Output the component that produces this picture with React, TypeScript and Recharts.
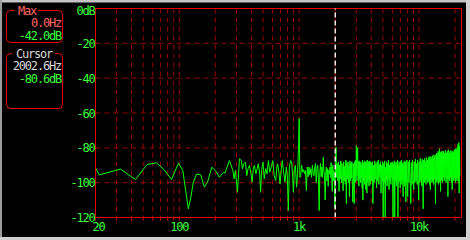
import { LineChart, Line, XAxis, YAxis, CartesianGrid, ReferenceLine } from "recharts"

const MONO = '"DejaVu Sans Mono", monospace'
const GREEN = "#00ff00"
const LABEL_GREEN = "#3cff3c"
const RED = "#e80000"
const GRID_RED = "#9a0000"
const TXT = { fontFamily: MONO, fontSize: 12, letterSpacing: -1.2 }

// sparse FFT bins below ~1 kHz
const LOW_HZ = [
  20, 21.5, 32.3, 43.1, 53.8, 64.6, 75.4, 86.1, 98.5, 107, 119, 125, 131, 140, 151, 162, 172, 187, 202, 216,
  234, 241, 262, 280, 287, 294, 306, 318, 330, 336, 345, 356, 366, 375, 385, 395, 406, 416, 424, 436,
  447, 456, 468, 477, 486, 500, 512, 526, 540, 554, 569, 585, 603, 619, 638, 655, 663, 680, 693, 711,
  724, 743, 763, 782, 798, 813, 829, 850, 867, 884, 896, 913, 931, 953, 971, 988, 1001, 1015,
]
const LOW_DB = [
  -91.5, -95.5, -92.2, -98.2, -89.6, -88.6, -92.8, -98.2, -88.8, -93, -115, -108.3, -99.7, -95, -95.5, -102.6, -99.7, -91.1, -93.4, -96.9,
  -94, -94.5, -87.3, -93, -97.8, -93, -105.5, -86.3, -87.3, -92, -89.2, -88.2, -95.9, -92, -90.1, -94, -99.7, -91.1, -90.1, -94.9,
  -92, -89.2, -94, -105.5, -93, -88.2, -97.8, -92, -94.9, -87.3, -94, -91.1, -87.3, -95.9, -98.8, -90.1, -89.2, -94.9, -100.7, -92,
  -87.3, -94, -99.7, -91.1, -96.8, -116, -91.1, -87.3, -88.2, -96.8, -105.5, -92, -90.1, -102.6, -94.9, -80.5, -63.2, -97,
]

// dense part: linear bin runs (start Hz, step Hz) with the dB read per run
const DB_1K = [
  -96, -90, -94, -92.5, -95, -93, -104.5, -91, -96.5, -91,
  -95.5, -92, -97, -90, -94.5, -96, -91.5, -89, -100, -92,
  -90, -98, -116, -94, -89, -96.5, -91, -97, -85.4, -93,
  -96, -110, -94, -91, -99, -92, -102, -93, -95, -91,
  -97, -88.5, -96, -105, -90, -99, -93, -97, -115, -91,
]
const DB_2K = [
  -79.6, -97, -89, -99, -88, -105, -90, -98, -87.5, -100,
  -89, -97, -104.6, -88, -99, -90.5, -101, -87, -112, -89,
  -98, -88, -100, -90, -108, -87.5, -99, -89, -97.5, -88,
  -101, -111, -89, -98, -112, -88, -100, -87, -99, -78.7,
  -96, -86, -80, -99, -88, -102, -87.5, -98, -89, -100,
  -88, -97, -90, -103, -87, -110, -89, -99, -88, -101,
  -87.5, -98, -89, -104, -88, -99, -106, -87, -100, -89,
  -98, -88, -102, -87.5, -99, -89, -101, -88, -97, -89,
]
const DB_4K = [
  -99, -88, -112, -90, -100, -87.5, -98, -89, -103, -88,
  -99, -87, -101, -89.5, -97, -88, -106, -90, -99, -88,
  -120, -89, -100, -87.5, -120, -91, -99, -88, -102, -89,
  -98, -87, -104, -90, -99, -88.5, -101, -89, -97, -88,
  -100, -120, -89, -98, -87.5, -120, -90, -99, -88, -102,
  -89, -97, -87, -120, -90, -100, -88, -99, -89.5, -103,
  -88, -98, -87, -101, -89, -99, -88.5, -108, -90, -98,
  -87.5, -102, -89, -99, -88, -111, -90, -100, -87, -98,
]
const DB_8K = [
  -108, -88, -100, -87, -99, -112, -88.5, -101, -87, -98,
  -104, -88, -100, -86.5, -99, -89, -101, -87, -98, -110,
  -88, -100, -86, -99, -88, -102, -86.5, -98, -115, -87,
  -100, -86, -99, -88, -101, -85.5, -98, -87, -100, -86,
  -99, -85, -101, -86.5, -104, -85, -98, -86, -100, -84.5,
  -99, -86, -101, -84, -98, -85.5, -100, -112, -84, -99,
  -83, -100, -84.5, -98, -82, -101, -83, -99, -80.5, -100,
  -82.5, -105, -83, -99, -82, -98, -83.5, -100, -82, -97,
]
const DB_16K = [
  -82, -99, -83, -97, -81.5, -100, -83, -98, -82, -108,
  -81, -98, -83, -99, -82, -97, -81.5, -100, -83, -104,
  -82, -98, -82.5, -99, -81, -97, -82, -100, -80.5, -98,
  -81, -99, -79.5, -97, -78, -100, -77, -106, -79, -96,
]
const DENSE = [
  { start: 1030, step: 20, db: DB_1K },
  { start: 2030, step: 25, db: DB_2K },
  { start: 4030, step: 50, db: DB_4K },
  { start: 8050, step: 100, db: DB_8K },
  { start: 16100, step: 150, db: DB_16K },
]

const X_GRID = [
  20, 30, 40, 50, 60, 70, 80, 90, 100, 200, 300, 400, 500, 600, 700, 800, 900,
  1000, 2000, 3000, 4000, 5000, 6000, 7000, 8000, 9000, 10000, 20000,
]
const X_LABELS: Record<number, string> = { 20: "20", 100: "100", 1000: "1k", 10000: "10k" }
const Y_TICKS = [0, -20, -40, -60, -80, -100, -120]
const X_MAX = 22650
const CURSOR_HZ = 2002.6

const data = [
  ...LOW_HZ.map((hz, i) => ({ hz, db: LOW_DB[i] })),
  ...DENSE.flatMap((seg) => seg.db.map((db, i) => ({ hz: seg.start + i * seg.step, db }))),
]

function XTick(props: any) {
  const { x, payload } = props
  const label = X_LABELS[payload.value]
  if (!label) return null
  return (
    <text x={x + (payload.value === 20 ? 3 : 0)} y={231} textAnchor="middle" fill={LABEL_GREEN} style={TXT}>
      {label}
    </text>
  )
}

function YTick(props: any) {
  const { y, payload } = props
  const v = payload.value
  return (
    <text x={94.5} y={v === 0 ? 15 : y + 4.5} textAnchor="end" fill={LABEL_GREEN} style={TXT}>
      {v === 0 ? "0dB" : String(v)}
    </text>
  )
}

function Panels() {
  return (
    <svg width={470} height={240} style={{ position: "absolute", left: 0, top: 0, pointerEvents: "none" }}>
      {/* window frame */}
      <rect x={0} y={0} width={470} height={2.5} fill="#c4c4c4" />
      <rect x={0} y={0} width={2} height={240} fill="#9c9c9c" />
      <rect x={466} y={0} width={4} height={240} fill="#d0d0d0" />
      <rect x={0} y={237} width={470} height={3} fill="#d0d0d0" />

      <rect x={6.5} y={10.5} width={56} height={32} rx={4} fill="none" stroke={RED} />
      <rect x={15} y={6} width={23} height={8} fill="#000" />
      <text x={27} y={14.5} textAnchor="middle" fill="#ff6464" style={TXT}>Max</text>
      <text x={61} y={27} textAnchor="end" fill="#ff6464" style={TXT}>0.0Hz</text>
      <text x={61} y={39.5} textAnchor="end" fill={LABEL_GREEN} style={TXT}>-42.0dB</text>

      <rect x={6.5} y={53.5} width={56} height={55} rx={4} fill="none" stroke={RED} />
      <rect x={12} y={49} width={43} height={8} fill="#000" />
      <text x={34} y={57.5} textAnchor="middle" fill="#d8d8d8" style={TXT}>Cursor</text>
      <text x={61} y={70} textAnchor="end" fill="#d8d8d8" style={TXT}>2002.6Hz</text>
      <text x={61} y={83} textAnchor="end" fill={LABEL_GREEN} style={TXT}>-80.6dB</text>
    </svg>
  )
}

export default function App() {
  return (
    <div style={{ position: "fixed", left: 0, top: 0, width: 470, height: 240, background: "#000", overflow: "hidden" }}>
      <LineChart width={470} height={240} data={data} margin={{ top: 8.5, right: 8.5, bottom: 0, left: 0 }}>
        <CartesianGrid stroke={GRID_RED} strokeDasharray="5 4" />
        <XAxis
          dataKey="hz"
          type="number"
          scale="log"
          domain={[20, X_MAX]}
          allowDataOverflow
          ticks={X_GRID}
          interval={0}
          height={22.5}
          tickSize={3}
          tickLine={{ stroke: RED }}
          axisLine={{ stroke: RED }}
          tick={<XTick />}
        />
        <YAxis
          type="number"
          domain={[-120, 0]}
          allowDataOverflow
          ticks={Y_TICKS}
          interval={0}
          width={95.5}
          tickLine={false}
          axisLine={{ stroke: RED }}
          tick={<YTick />}
        />
        <Line dataKey="db" type="linear" stroke={GREEN} strokeWidth={1} dot={false} isAnimationActive={false} />
        <ReferenceLine y={0} stroke={RED} />
        <ReferenceLine x={X_MAX} stroke={RED} />
        <ReferenceLine x={CURSOR_HZ} stroke="#f2e6e6" strokeWidth={1.5} strokeDasharray="5 3" />
      </LineChart>
      <Panels />
    </div>
  )
}
